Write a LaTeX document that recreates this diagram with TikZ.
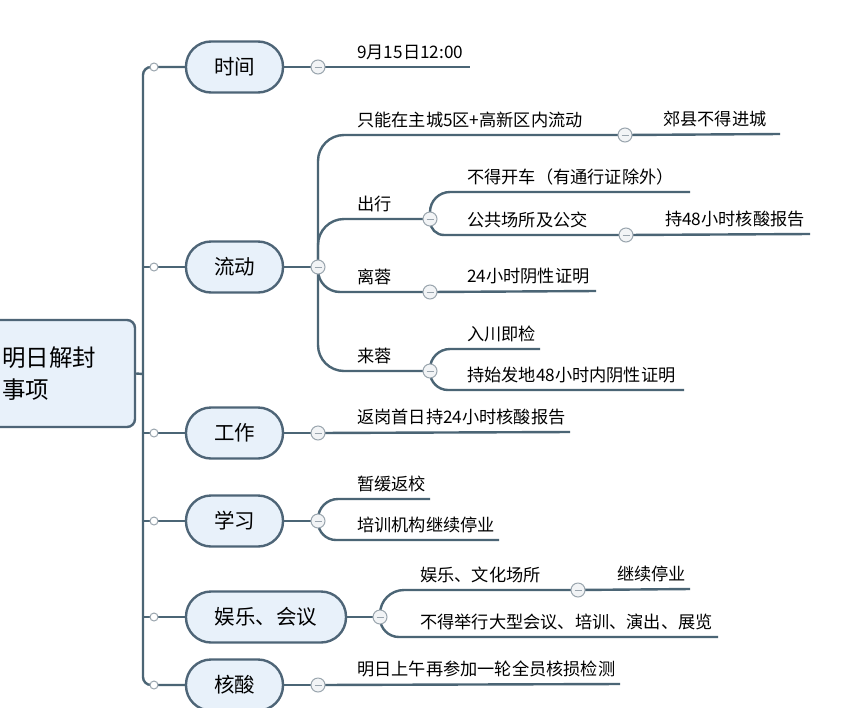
\documentclass[tikz,border=0pt]{standalone}
\usepackage{fontspec}
\setmainfont{Noto Sans CJK SC}
\newfontfamily\cjk{Noto Sans CJK SC}
\definecolor{linec}{HTML}{4B6575}
\definecolor{pillb}{HTML}{4E6577}
\definecolor{pillf}{HTML}{E8F1FA}
\definecolor{minb}{HTML}{9AA5AE}
\definecolor{minf}{HTML}{F2F4F6}
\tikzset{
  ln/.style={draw=linec, line width=2.4pt},
  pill/.style={draw=pillb, fill=pillf, line width=2.4pt, rounded corners=25pt,
    minimum width=97pt, minimum height=51pt, inner sep=0pt,
    font=\cjk\fontsize{20.5}{24}\selectfont},
  rootbox/.style={draw=pillb, fill=pillf, line width=2.4pt, rounded corners=8pt,
    minimum width=155pt, minimum height=107pt, inner xsep=22pt, inner ysep=0pt,
    text width=111pt, align=left, font=\cjk\fontsize{23.5}{32}\selectfont},
  minus/.style={circle, draw=minb, fill=minf, line width=1pt, minimum size=14pt, inner sep=0pt,
    path picture={\draw[minb, line width=1pt] ([xshift=-3.5pt]path picture bounding box.center) -- ([xshift=3.5pt]path picture bounding box.center);}},
  dotc/.style={circle, draw=minb, fill=white, line width=1pt, minimum size=8pt, inner sep=0pt},
  lbl/.style={anchor=base west, inner sep=0pt, font=\cjk\fontsize{17.2}{20}\selectfont},
}
\begin{document}
\begin{tikzpicture}[x=1pt,y=-1pt]
\useasboundingbox[fill=white] (0,0) rectangle (850,707);

% root and branch nodes
\node[rootbox] (root) at (57.5,373.5) {明日解封\\事项};
\node[pill] (pT) at (234.5,67) {时间};
\node[pill] (pL) at (234.5,267) {流动};
\node[pill] (pW) at (234.5,433) {工作};
\node[pill] (pS) at (234.5,521) {学习};
\node[pill, minimum width=160pt] (pE) at (266,617) {娱乐、会议};
\node[pill] (pH) at (234.5,685) {核酸};

% spine coordinates
\coordinate (sp0) at (143,374);
\coordinate (sp1) at (143,67);
\coordinate (sp2) at (143,267);
\coordinate (sp3) at (143,433);
\coordinate (sp4) at (143,521);
\coordinate (sp5) at (143,617);
\coordinate (sp6) at (143,685);

% minus positions
\coordinate (mT) at (318,67);
\coordinate (mL) at (318,267);
\coordinate (mL1) at (625,135);
\coordinate (mL2) at (430,219);
\coordinate (mL21) at (626,235);
\coordinate (mL3) at (430,292);
\coordinate (mL4) at (430,371);
\coordinate (mW) at (318,433);
\coordinate (mS) at (318,521);
\coordinate (mE) at (380,617);
\coordinate (mE1) at (578,590);
\coordinate (mH) at (318,685);

% line end points
\coordinate (eT) at (470,67);
\coordinate (eL1) at (780,134);
\coordinate (eL2a) at (690,192);
\coordinate (eL21) at (810,234);
\coordinate (eL3) at (596,291);
\coordinate (eL4a) at (540,349);
\coordinate (eL4b) at (684,390);
\coordinate (eW) at (570,432);
\coordinate (eSa) at (430,499);
\coordinate (eSb) at (499,540);
\coordinate (eE1) at (690,589);
\coordinate (eEb) at (718,637);
\coordinate (eH) at (620,684);

% spine
\draw[ln, rounded corners=8pt] (pT.west) -- (sp1) -- (sp6) -- (pH.west);
\draw[ln] (root.east) -- (sp0);
\draw[ln] (sp2) -- (pL.west);
\draw[ln] (sp3) -- (pW.west);
\draw[ln] (sp4) -- (pS.west);
\draw[ln] (sp5) -- (pE.west);

% branch to minus
\draw[ln] (pT.east) -- (mT);
\draw[ln] (pL.east) -- (mL);
\draw[ln] (pW.east) -- (mW);
\draw[ln] (pS.east) -- (mS);
\draw[ln] (pE.east) -- (mE);
\draw[ln] (pH.east) -- (mH);

% 时间
\draw[ln] (mT) -- (eT);
\node[lbl] (tT) at (357,58.5) {9月15日12:00};

% 流动
\draw[ln, rounded corners=26pt] (mL) |- (mL1);
\draw[ln] (mL1) -- (eL1);
\node[lbl] (tL1) at (357,126.5) {只能在主城5区+高新区内流动};
\node[lbl] (tL11) at (663,125) {郊县不得进城};

\draw[ln, rounded corners=26pt] (mL) |- (mL2);
\node[lbl] (tL2) at (357,210) {出行};
\draw[ln, rounded corners=20pt] (mL2) |- (eL2a);
\node[lbl] (tL2a) at (467,183.5) {不得开车（有通行证除外）};
\draw[ln, rounded corners=14pt] (mL2) |- (mL21);
\node[lbl] (tL2b) at (467,226.5) {公共场所及公交};
\draw[ln] (mL21) -- (eL21);
\node[lbl] (tL21) at (665,225.5) {持48小时核酸报告};

\draw[ln, rounded corners=22pt] (mL) |- (mL3);
\node[lbl] (tL3) at (357,283.5) {离蓉};
\draw[ln] (mL3) -- (eL3);
\node[lbl] (tL31) at (467,282.5) {24小时阴性证明};

\draw[ln, rounded corners=26pt] (mL) |- (mL4);
\node[lbl] (tL4) at (357,362.5) {来蓉};
\draw[ln, rounded corners=20pt] (mL4) |- (eL4a);
\node[lbl] (tL4a) at (467,340.5) {入川即检};
\draw[ln, rounded corners=18pt] (mL4) |- (eL4b);
\node[lbl] (tL4b) at (467,381.5) {持始发地48小时内阴性证明};

% 工作
\draw[ln] (mW) -- (eW);
\node[lbl] (tW) at (357,423.5) {返岗首日持24小时核酸报告};

% 学习
\draw[ln, rounded corners=20pt] (mS) |- (eSa);
\node[lbl] (tSa) at (357,490.5) {暂缓返校};
\draw[ln, rounded corners=18pt] (mS) |- (eSb);
\node[lbl] (tSb) at (357,531.5) {培训机构继续停业};

% 娱乐、会议
\draw[ln, rounded corners=24pt] (mE) |- (mE1);
\node[lbl] (tEa) at (420,581.5) {娱乐、文化场所};
\draw[ln] (mE1) -- (eE1);
\node[lbl] (tE1) at (617,580.5) {继续停业};
\draw[ln, rounded corners=19pt] (mE) |- (eEb);
\node[lbl] (tEb) at (420,628.5) {不得举行大型会议、培训、演出、展览};

% 核酸
\draw[ln] (mH) -- (eH);
\node[lbl] (tH) at (357,675.5) {明日上午再参加一轮全员核损检测};

% small dots on spine branches
\foreach \y/\n in {67/1,267/2,433/3,521/4,617/5,685/6}
  \node[dotc] (d\n) at (154,\y) {};

% minus circles
\foreach \c in {mT,mL,mL1,mL2,mL21,mL3,mL4,mW,mS,mE,mE1,mH}
  \node[minus] (\c c) at (\c) {};
\end{tikzpicture}
\end{document}
